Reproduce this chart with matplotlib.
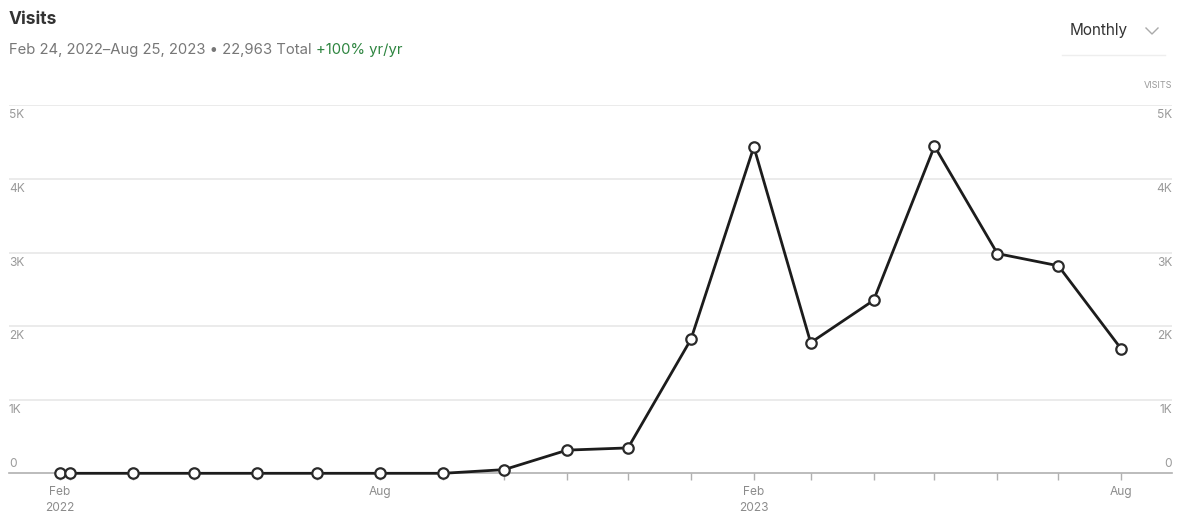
import numpy as np
import matplotlib.pyplot as plt
import matplotlib.dates as mdates
from datetime import datetime

plt.rcParams['font.family'] = ['Inter', 'DejaVu Sans']

dates = ["2022-02-24", "2022-03-01", "2022-04-01", "2022-05-01", "2022-06-01",
         "2022-07-01", "2022-08-01", "2022-09-01", "2022-10-01", "2022-11-01",
         "2022-12-01", "2023-01-01", "2023-02-01", "2023-03-01", "2023-04-01",
         "2023-05-01", "2023-06-01", "2023-07-01", "2023-08-01"]
visits = [0, 0, 0, 0, 0, 0, 0, 0, 50, 315, 345, 1820, 4435, 1775, 2350,
          4445, 2985, 2820, 1690]

y_ticks = [0, 1000, 2000, 3000, 4000, 5000]
y_labels = ["0", "1K", "2K", "3K", "4K", "5K"]
x_label_dates = ["2022-02-24", "2022-08-01", "2023-02-01", "2023-08-01"]
x_labels = ["Feb\n2022", "Aug", "Feb\n2023", "Aug"]

x = [datetime.strptime(d, "%Y-%m-%d") for d in dates]

fig = plt.figure(figsize=(11.82, 5.2), dpi=100)
ax = fig.add_axes([0.0076, 0.0898, 0.9839, 0.7077])

ax.plot(x, visits, color="#1c1c1c", lw=2, marker="o", ms=7.5,
        mfc="white", mec="#2a2a2a", mew=1.6, zorder=5, clip_on=False)

ax.set_xlim(datetime(2022, 1, 30), datetime(2023, 8, 26))
ax.set_ylim(0, 5000)

# gridlines + labels on both sides
for v, lab in zip(y_ticks, y_labels):
    if v > 0:
        ax.axhline(v, color="#e8e8e8", lw=1.2, zorder=0)
        off = -10
    else:
        off = 9
    ax.annotate(lab, (0, v), xycoords=("axes fraction", "data"), xytext=(0, off),
                textcoords="offset pixels", ha="left", va="center", fontsize=8.6, color="#9a9a9a")
    ax.annotate(lab, (1, v), xycoords=("axes fraction", "data"), xytext=(0, off),
                textcoords="offset pixels", ha="right", va="center", fontsize=8.6, color="#9a9a9a")

for s in ["top", "left", "right"]:
    ax.spines[s].set_visible(False)
ax.spines["bottom"].set_color("#b0b0b0")
ax.spines["bottom"].set_linewidth(1.2)
ax.set_yticks([])

ax.set_xticks(x[1:], minor=True)
ax.set_xticks([datetime.strptime(d, "%Y-%m-%d") for d in x_label_dates])
ax.set_xticklabels(x_labels, fontsize=8.6, color="#8c8c8c", linespacing=1.45)
ax.tick_params(axis="x", which="both", length=5, color="#b0b0b0", width=1, pad=4)

# header
fig.text(9 / 1182, 1 - 19 / 520, "Visits", fontsize=12.5, fontweight="bold",
         color="#333333", ha="left", va="center")
sub = fig.text(9 / 1182, 1 - 50 / 520, "Feb 24, 2022\u2013Aug 25, 2023 \u2022 22,963 Total ",
               fontsize=10.7, color="#777777", ha="left", va="center")
ax.annotate("+100% yr/yr", xy=(1, 0.5), xycoords=sub, ha="left", va="center",
            fontsize=10.7, color="#2e8540")

fig.text(1128 / 1182, 1 - 31 / 520, "Monthly", fontsize=11, color="#333333",
         ha="right", va="center")
fig.add_artist(plt.Line2D([1146 / 1182, 1152 / 1182, 1158 / 1182],
                          [1 - 28 / 520, 1 - 34 / 520, 1 - 28 / 520],
                          color="#aaaaaa", lw=1))
fig.add_artist(plt.Line2D([1062 / 1182, 1165 / 1182], [1 - 55 / 520, 1 - 55 / 520],
                          color="#eeeeee", lw=1))
fig.text(1172 / 1182, 1 - 85 / 520, "VISITS", fontsize=6.5, color="#999999",
         ha="right", va="center")

plt.savefig("out.png", dpi=100)
